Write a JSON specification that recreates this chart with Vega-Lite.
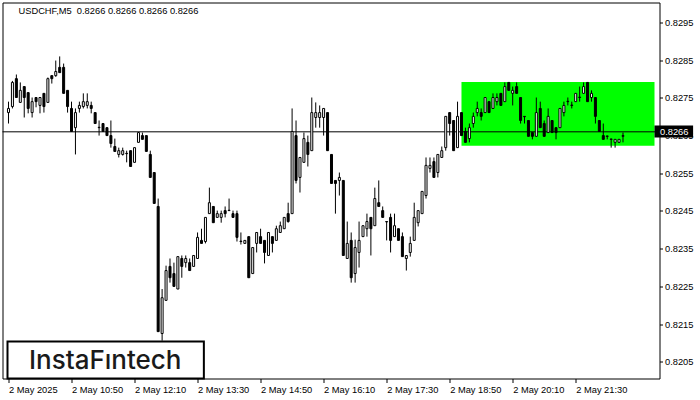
{
  "$schema": "https://vega.github.io/schema/vega-lite/v6.json",
  "width": 657,
  "height": 376,
  "autosize": {"type": "none"},
  "padding": {"left": 2.5, "top": 2.5, "right": 40.5, "bottom": 21.5},
  "background": "white",
  "config": {
    "view": {"stroke": "black", "strokeWidth": 1},
    "font": "Liberation Sans"
  },
  "title": {
    "text": "USDCHF,M5\u00a0 0.8266 0.8266 0.8266 0.8266",
    "anchor": "start",
    "orient": "top",
    "frame": "group",
    "baseline": "alphabetic",
    "offset": 0,
    "dx": 16,
    "dy": 21,
    "font": "Liberation Sans",
    "fontSize": 9.3,
    "fontWeight": "normal",
    "color": "black"
  },
  "data": {
    "format": {"parse": {"t": "date:'%Y-%m-%d %H:%M'"}},
    "values": [
      {"t": "2025-05-02 09:30", "o": 0.82711, "h": 0.82740, "l": 0.82682, "c": 0.82722},
      {"t": "2025-05-02 09:35", "o": 0.82727, "h": 0.82795, "l": 0.82722, "c": 0.82791},
      {"t": "2025-05-02 09:40", "o": 0.82801, "h": 0.82812, "l": 0.82751, "c": 0.82751},
      {"t": "2025-05-02 09:45", "o": 0.82738, "h": 0.82791, "l": 0.82738, "c": 0.82770},
      {"t": "2025-05-02 09:50", "o": 0.82780, "h": 0.82780, "l": 0.82698, "c": 0.82751},
      {"t": "2025-05-02 09:55", "o": 0.82764, "h": 0.82764, "l": 0.82709, "c": 0.82722},
      {"t": "2025-05-02 10:00", "o": 0.82711, "h": 0.82751, "l": 0.82698, "c": 0.82740},
      {"t": "2025-05-02 10:05", "o": 0.82751, "h": 0.82751, "l": 0.82725, "c": 0.82740},
      {"t": "2025-05-02 10:10", "o": 0.82730, "h": 0.82751, "l": 0.82709, "c": 0.82751},
      {"t": "2025-05-02 10:15", "o": 0.82762, "h": 0.82762, "l": 0.82711, "c": 0.82727},
      {"t": "2025-05-02 10:20", "o": 0.82738, "h": 0.82804, "l": 0.82738, "c": 0.82801},
      {"t": "2025-05-02 10:25", "o": 0.82809, "h": 0.82809, "l": 0.82788, "c": 0.82801},
      {"t": "2025-05-02 10:30", "o": 0.82809, "h": 0.82849, "l": 0.82806, "c": 0.82820},
      {"t": "2025-05-02 10:35", "o": 0.82831, "h": 0.82860, "l": 0.82817, "c": 0.82817},
      {"t": "2025-05-02 10:40", "o": 0.82831, "h": 0.82841, "l": 0.82762, "c": 0.82762},
      {"t": "2025-05-02 10:45", "o": 0.82770, "h": 0.82770, "l": 0.82711, "c": 0.82727},
      {"t": "2025-05-02 10:50", "o": 0.82722, "h": 0.82740, "l": 0.82661, "c": 0.82661},
      {"t": "2025-05-02 10:55", "o": 0.82671, "h": 0.82722, "l": 0.82600, "c": 0.82711},
      {"t": "2025-05-02 11:00", "o": 0.82722, "h": 0.82740, "l": 0.82711, "c": 0.82730},
      {"t": "2025-05-02 11:05", "o": 0.82727, "h": 0.82762, "l": 0.82722, "c": 0.82740},
      {"t": "2025-05-02 11:10", "o": 0.82730, "h": 0.82762, "l": 0.82722, "c": 0.82740},
      {"t": "2025-05-02 11:15", "o": 0.82730, "h": 0.82740, "l": 0.82709, "c": 0.82722},
      {"t": "2025-05-02 11:20", "o": 0.82711, "h": 0.82711, "l": 0.82682, "c": 0.82682},
      {"t": "2025-05-02 11:25", "o": 0.82672, "h": 0.82690, "l": 0.82650, "c": 0.82671},
      {"t": "2025-05-02 11:30", "o": 0.82682, "h": 0.82682, "l": 0.82661, "c": 0.82661},
      {"t": "2025-05-02 11:35", "o": 0.82671, "h": 0.82671, "l": 0.82650, "c": 0.82650},
      {"t": "2025-05-02 11:40", "o": 0.82650, "h": 0.82690, "l": 0.82618, "c": 0.82629},
      {"t": "2025-05-02 11:45", "o": 0.82621, "h": 0.82642, "l": 0.82608, "c": 0.82608},
      {"t": "2025-05-02 11:50", "o": 0.82600, "h": 0.82618, "l": 0.82592, "c": 0.82610},
      {"t": "2025-05-02 11:55", "o": 0.82600, "h": 0.82618, "l": 0.82597, "c": 0.82610},
      {"t": "2025-05-02 12:00", "o": 0.82603, "h": 0.82610, "l": 0.82579, "c": 0.82602},
      {"t": "2025-05-02 12:05", "o": 0.82610, "h": 0.82610, "l": 0.82568, "c": 0.82568},
      {"t": "2025-05-02 12:10", "o": 0.82579, "h": 0.82618, "l": 0.82579, "c": 0.82618},
      {"t": "2025-05-02 12:15", "o": 0.82632, "h": 0.82658, "l": 0.82632, "c": 0.82658},
      {"t": "2025-05-02 12:20", "o": 0.82650, "h": 0.82658, "l": 0.82640, "c": 0.82640},
      {"t": "2025-05-02 12:25", "o": 0.82650, "h": 0.82650, "l": 0.82608, "c": 0.82608},
      {"t": "2025-05-02 12:30", "o": 0.82600, "h": 0.82610, "l": 0.82539, "c": 0.82539},
      {"t": "2025-05-02 12:35", "o": 0.82552, "h": 0.82552, "l": 0.82470, "c": 0.82470},
      {"t": "2025-05-02 12:40", "o": 0.82462, "h": 0.82483, "l": 0.82130, "c": 0.82130},
      {"t": "2025-05-02 12:45", "o": 0.82125, "h": 0.82243, "l": 0.82106, "c": 0.82220},
      {"t": "2025-05-02 12:50", "o": 0.82213, "h": 0.82305, "l": 0.82213, "c": 0.82292},
      {"t": "2025-05-02 12:55", "o": 0.82303, "h": 0.82324, "l": 0.82260, "c": 0.82273},
      {"t": "2025-05-02 13:00", "o": 0.82284, "h": 0.82313, "l": 0.82250, "c": 0.82250},
      {"t": "2025-05-02 13:05", "o": 0.82243, "h": 0.82329, "l": 0.82243, "c": 0.82329},
      {"t": "2025-05-02 13:10", "o": 0.82324, "h": 0.82332, "l": 0.82273, "c": 0.82303},
      {"t": "2025-05-02 13:15", "o": 0.82313, "h": 0.82332, "l": 0.82300, "c": 0.82324},
      {"t": "2025-05-02 13:20", "o": 0.82313, "h": 0.82324, "l": 0.82292, "c": 0.82292},
      {"t": "2025-05-02 13:25", "o": 0.82303, "h": 0.82332, "l": 0.82303, "c": 0.82332},
      {"t": "2025-05-02 13:30", "o": 0.82324, "h": 0.82393, "l": 0.82324, "c": 0.82380},
      {"t": "2025-05-02 13:35", "o": 0.82372, "h": 0.82403, "l": 0.82364, "c": 0.82364},
      {"t": "2025-05-02 13:40", "o": 0.82369, "h": 0.82433, "l": 0.82364, "c": 0.82433},
      {"t": "2025-05-02 13:45", "o": 0.82443, "h": 0.82512, "l": 0.82443, "c": 0.82472},
      {"t": "2025-05-02 13:50", "o": 0.82462, "h": 0.82462, "l": 0.82419, "c": 0.82419},
      {"t": "2025-05-02 13:55", "o": 0.82433, "h": 0.82451, "l": 0.82433, "c": 0.82443},
      {"t": "2025-05-02 14:00", "o": 0.82433, "h": 0.82451, "l": 0.82419, "c": 0.82443},
      {"t": "2025-05-02 14:05", "o": 0.82451, "h": 0.82462, "l": 0.82433, "c": 0.82443},
      {"t": "2025-05-02 14:10", "o": 0.82452, "h": 0.82483, "l": 0.82451, "c": 0.82451},
      {"t": "2025-05-02 14:15", "o": 0.82443, "h": 0.82451, "l": 0.82433, "c": 0.82433},
      {"t": "2025-05-02 14:20", "o": 0.82443, "h": 0.82451, "l": 0.82369, "c": 0.82380},
      {"t": "2025-05-02 14:25", "o": 0.82370, "h": 0.82393, "l": 0.82361, "c": 0.82369},
      {"t": "2025-05-02 14:30", "o": 0.82364, "h": 0.82372, "l": 0.82364, "c": 0.82372},
      {"t": "2025-05-02 14:35", "o": 0.82382, "h": 0.82382, "l": 0.82273, "c": 0.82273},
      {"t": "2025-05-02 14:40", "o": 0.82284, "h": 0.82353, "l": 0.82284, "c": 0.82353},
      {"t": "2025-05-02 14:45", "o": 0.82364, "h": 0.82393, "l": 0.82340, "c": 0.82393},
      {"t": "2025-05-02 14:50", "o": 0.82382, "h": 0.82403, "l": 0.82364, "c": 0.82364},
      {"t": "2025-05-02 14:55", "o": 0.82372, "h": 0.82372, "l": 0.82311, "c": 0.82340},
      {"t": "2025-05-02 15:00", "o": 0.82332, "h": 0.82393, "l": 0.82332, "c": 0.82393},
      {"t": "2025-05-02 15:05", "o": 0.82382, "h": 0.82382, "l": 0.82340, "c": 0.82364},
      {"t": "2025-05-02 15:10", "o": 0.82372, "h": 0.82411, "l": 0.82372, "c": 0.82403},
      {"t": "2025-05-02 15:15", "o": 0.82393, "h": 0.82422, "l": 0.82393, "c": 0.82411},
      {"t": "2025-05-02 15:20", "o": 0.82403, "h": 0.82433, "l": 0.82403, "c": 0.82433},
      {"t": "2025-05-02 15:25", "o": 0.82443, "h": 0.82472, "l": 0.82419, "c": 0.82422},
      {"t": "2025-05-02 15:30", "o": 0.82443, "h": 0.82722, "l": 0.82443, "c": 0.82661},
      {"t": "2025-05-02 15:35", "o": 0.82650, "h": 0.82690, "l": 0.82523, "c": 0.82531},
      {"t": "2025-05-02 15:40", "o": 0.82539, "h": 0.82592, "l": 0.82499, "c": 0.82592},
      {"t": "2025-05-02 15:45", "o": 0.82579, "h": 0.82658, "l": 0.82579, "c": 0.82642},
      {"t": "2025-05-02 15:50", "o": 0.82632, "h": 0.82650, "l": 0.82568, "c": 0.82600},
      {"t": "2025-05-02 15:55", "o": 0.82610, "h": 0.82751, "l": 0.82610, "c": 0.82711},
      {"t": "2025-05-02 16:00", "o": 0.82698, "h": 0.82738, "l": 0.82671, "c": 0.82711},
      {"t": "2025-05-02 16:05", "o": 0.82698, "h": 0.82730, "l": 0.82671, "c": 0.82711},
      {"t": "2025-05-02 16:10", "o": 0.82698, "h": 0.82722, "l": 0.82650, "c": 0.82722},
      {"t": "2025-05-02 16:15", "o": 0.82711, "h": 0.82711, "l": 0.82610, "c": 0.82610},
      {"t": "2025-05-02 16:20", "o": 0.82600, "h": 0.82600, "l": 0.82523, "c": 0.82523},
      {"t": "2025-05-02 16:25", "o": 0.82531, "h": 0.82531, "l": 0.82443, "c": 0.82523},
      {"t": "2025-05-02 16:30", "o": 0.82531, "h": 0.82552, "l": 0.82491, "c": 0.82539},
      {"t": "2025-05-02 16:35", "o": 0.82531, "h": 0.82531, "l": 0.82332, "c": 0.82332},
      {"t": "2025-05-02 16:40", "o": 0.82324, "h": 0.82422, "l": 0.82324, "c": 0.82364},
      {"t": "2025-05-02 16:45", "o": 0.82372, "h": 0.82393, "l": 0.82260, "c": 0.82273},
      {"t": "2025-05-02 16:50", "o": 0.82284, "h": 0.82374, "l": 0.82260, "c": 0.82353},
      {"t": "2025-05-02 16:55", "o": 0.82340, "h": 0.82422, "l": 0.82300, "c": 0.82372},
      {"t": "2025-05-02 17:00", "o": 0.82382, "h": 0.82411, "l": 0.82382, "c": 0.82411},
      {"t": "2025-05-02 17:05", "o": 0.82403, "h": 0.82443, "l": 0.82382, "c": 0.82422},
      {"t": "2025-05-02 17:10", "o": 0.82433, "h": 0.82433, "l": 0.82332, "c": 0.82403},
      {"t": "2025-05-02 17:15", "o": 0.82411, "h": 0.82512, "l": 0.82411, "c": 0.82483},
      {"t": "2025-05-02 17:20", "o": 0.82472, "h": 0.82531, "l": 0.82462, "c": 0.82462},
      {"t": "2025-05-02 17:25", "o": 0.82451, "h": 0.82462, "l": 0.82433, "c": 0.82433},
      {"t": "2025-05-02 17:30", "o": 0.82422, "h": 0.82422, "l": 0.82372, "c": 0.82421},
      {"t": "2025-05-02 17:35", "o": 0.82433, "h": 0.82443, "l": 0.82340, "c": 0.82372},
      {"t": "2025-05-02 17:40", "o": 0.82382, "h": 0.82443, "l": 0.82382, "c": 0.82411},
      {"t": "2025-05-02 17:45", "o": 0.82403, "h": 0.82403, "l": 0.82372, "c": 0.82372},
      {"t": "2025-05-02 17:50", "o": 0.82382, "h": 0.82393, "l": 0.82329, "c": 0.82329},
      {"t": "2025-05-02 17:55", "o": 0.82324, "h": 0.82332, "l": 0.82292, "c": 0.82332},
      {"t": "2025-05-02 18:00", "o": 0.82340, "h": 0.82382, "l": 0.82329, "c": 0.82364},
      {"t": "2025-05-02 18:05", "o": 0.82372, "h": 0.82472, "l": 0.82372, "c": 0.82433},
      {"t": "2025-05-02 18:10", "o": 0.82419, "h": 0.82451, "l": 0.82409, "c": 0.82451},
      {"t": "2025-05-02 18:15", "o": 0.82443, "h": 0.82502, "l": 0.82443, "c": 0.82502},
      {"t": "2025-05-02 18:20", "o": 0.82491, "h": 0.82592, "l": 0.82483, "c": 0.82571},
      {"t": "2025-05-02 18:25", "o": 0.82563, "h": 0.82592, "l": 0.82552, "c": 0.82571},
      {"t": "2025-05-02 18:30", "o": 0.82581, "h": 0.82592, "l": 0.82539, "c": 0.82539},
      {"t": "2025-05-02 18:35", "o": 0.82552, "h": 0.82600, "l": 0.82539, "c": 0.82600},
      {"t": "2025-05-02 18:40", "o": 0.82592, "h": 0.82621, "l": 0.82592, "c": 0.82610},
      {"t": "2025-05-02 18:45", "o": 0.82618, "h": 0.82701, "l": 0.82610, "c": 0.82701},
      {"t": "2025-05-02 18:50", "o": 0.82711, "h": 0.82711, "l": 0.82650, "c": 0.82682},
      {"t": "2025-05-02 18:55", "o": 0.82690, "h": 0.82690, "l": 0.82610, "c": 0.82610},
      {"t": "2025-05-02 19:00", "o": 0.82618, "h": 0.82740, "l": 0.82618, "c": 0.82701},
      {"t": "2025-05-02 19:05", "o": 0.82711, "h": 0.82711, "l": 0.82650, "c": 0.82650},
      {"t": "2025-05-02 19:10", "o": 0.82661, "h": 0.82671, "l": 0.82632, "c": 0.82632},
      {"t": "2025-05-02 19:15", "o": 0.82642, "h": 0.82682, "l": 0.82632, "c": 0.82671},
      {"t": "2025-05-02 19:20", "o": 0.82682, "h": 0.82711, "l": 0.82671, "c": 0.82701},
      {"t": "2025-05-02 19:25", "o": 0.82711, "h": 0.82740, "l": 0.82701, "c": 0.82722},
      {"t": "2025-05-02 19:30", "o": 0.82711, "h": 0.82722, "l": 0.82690, "c": 0.82701},
      {"t": "2025-05-02 19:35", "o": 0.82711, "h": 0.82751, "l": 0.82711, "c": 0.82751},
      {"t": "2025-05-02 19:40", "o": 0.82740, "h": 0.82740, "l": 0.82711, "c": 0.82711},
      {"t": "2025-05-02 19:45", "o": 0.82722, "h": 0.82762, "l": 0.82722, "c": 0.82751},
      {"t": "2025-05-02 19:50", "o": 0.82740, "h": 0.82762, "l": 0.82730, "c": 0.82751},
      {"t": "2025-05-02 19:55", "o": 0.82762, "h": 0.82762, "l": 0.82730, "c": 0.82730},
      {"t": "2025-05-02 20:00", "o": 0.82740, "h": 0.82791, "l": 0.82740, "c": 0.82780},
      {"t": "2025-05-02 20:05", "o": 0.82791, "h": 0.82791, "l": 0.82770, "c": 0.82770},
      {"t": "2025-05-02 20:10", "o": 0.82762, "h": 0.82780, "l": 0.82730, "c": 0.82770},
      {"t": "2025-05-02 20:15", "o": 0.82780, "h": 0.82791, "l": 0.82762, "c": 0.82762},
      {"t": "2025-05-02 20:20", "o": 0.82751, "h": 0.82751, "l": 0.82682, "c": 0.82690},
      {"t": "2025-05-02 20:25", "o": 0.82701, "h": 0.82701, "l": 0.82682, "c": 0.82700},
      {"t": "2025-05-02 20:30", "o": 0.82690, "h": 0.82690, "l": 0.82648, "c": 0.82648},
      {"t": "2025-05-02 20:35", "o": 0.82658, "h": 0.82658, "l": 0.82640, "c": 0.82648},
      {"t": "2025-05-02 20:40", "o": 0.82648, "h": 0.82751, "l": 0.82648, "c": 0.82711},
      {"t": "2025-05-02 20:45", "o": 0.82722, "h": 0.82740, "l": 0.82671, "c": 0.82671},
      {"t": "2025-05-02 20:50", "o": 0.82682, "h": 0.82690, "l": 0.82648, "c": 0.82648},
      {"t": "2025-05-02 20:55", "o": 0.82658, "h": 0.82722, "l": 0.82658, "c": 0.82701},
      {"t": "2025-05-02 21:00", "o": 0.82690, "h": 0.82690, "l": 0.82658, "c": 0.82658},
      {"t": "2025-05-02 21:05", "o": 0.82671, "h": 0.82671, "l": 0.82640, "c": 0.82658},
      {"t": "2025-05-02 21:10", "o": 0.82671, "h": 0.82722, "l": 0.82671, "c": 0.82722},
      {"t": "2025-05-02 21:15", "o": 0.82711, "h": 0.82740, "l": 0.82701, "c": 0.82730},
      {"t": "2025-05-02 21:20", "o": 0.82741, "h": 0.82751, "l": 0.82730, "c": 0.82740},
      {"t": "2025-05-02 21:25", "o": 0.82731, "h": 0.82740, "l": 0.82722, "c": 0.82730},
      {"t": "2025-05-02 21:30", "o": 0.82740, "h": 0.82762, "l": 0.82740, "c": 0.82762},
      {"t": "2025-05-02 21:35", "o": 0.82752, "h": 0.82780, "l": 0.82740, "c": 0.82751},
      {"t": "2025-05-02 21:40", "o": 0.82762, "h": 0.82791, "l": 0.82762, "c": 0.82780},
      {"t": "2025-05-02 21:45", "o": 0.82791, "h": 0.82791, "l": 0.82740, "c": 0.82740},
      {"t": "2025-05-02 21:50", "o": 0.82751, "h": 0.82770, "l": 0.82740, "c": 0.82762},
      {"t": "2025-05-02 21:55", "o": 0.82751, "h": 0.82751, "l": 0.82682, "c": 0.82701},
      {"t": "2025-05-02 22:00", "o": 0.82690, "h": 0.82690, "l": 0.82661, "c": 0.82661},
      {"t": "2025-05-02 22:05", "o": 0.82650, "h": 0.82682, "l": 0.82640, "c": 0.82640},
      {"t": "2025-05-02 22:10", "o": 0.82649, "h": 0.82649, "l": 0.82640, "c": 0.82648},
      {"t": "2025-05-02 22:15", "o": 0.82641, "h": 0.82641, "l": 0.82618, "c": 0.82640},
      {"t": "2025-05-02 22:20", "o": 0.82632, "h": 0.82640, "l": 0.82618, "c": 0.82640},
      {"t": "2025-05-02 22:25", "o": 0.82632, "h": 0.82640, "l": 0.82632, "c": 0.82640},
      {"t": "2025-05-02 22:30", "o": 0.82648, "h": 0.82658, "l": 0.82632, "c": 0.82650}
    ]
  },
  "layer": [
    {
      "data": {"values": [{}]},
      "mark": {"type": "rect", "color": "#00FF00", "opacity": 1},
      "encoding": {
        "x": {"datum": {"year": 2025, "month": 5, "date": 2, "hours": 19, "minutes": 5}, "type": "temporal"},
        "x2": {"datum": {"year": 2025, "month": 5, "date": 2, "hours": 23, "minutes": 10}},
        "y": {"datum": 0.82792, "type": "quantitative"},
        "y2": {"datum": 0.82623}
      }
    },
    {
      "data": {"values": [{}]},
      "mark": {"type": "rule", "color": "black", "strokeWidth": 1},
      "encoding": {"y": {"datum": 0.8266, "type": "quantitative"}}
    },
    {
      "mark": {"type": "rule", "color": "black", "strokeWidth": 1},
      "encoding": {
        "x": {
          "field": "t",
          "type": "temporal",
          "title": null,
          "scale": {
            "domain": [
              {"year": 2025, "month": 5, "date": 2, "hours": 9, "minutes": 28, "seconds": 45},
              {"year": 2025, "month": 5, "date": 2, "hours": 23, "minutes": 10}
            ]
          },
          "axis": {
            "values": [
              {"year": 2025, "month": 5, "date": 2, "hours": 9, "minutes": 30},
              {"year": 2025, "month": 5, "date": 2, "hours": 10, "minutes": 50},
              {"year": 2025, "month": 5, "date": 2, "hours": 12, "minutes": 10},
              {"year": 2025, "month": 5, "date": 2, "hours": 13, "minutes": 30},
              {"year": 2025, "month": 5, "date": 2, "hours": 14, "minutes": 50},
              {"year": 2025, "month": 5, "date": 2, "hours": 16, "minutes": 10},
              {"year": 2025, "month": 5, "date": 2, "hours": 17, "minutes": 30},
              {"year": 2025, "month": 5, "date": 2, "hours": 18, "minutes": 50},
              {"year": 2025, "month": 5, "date": 2, "hours": 20, "minutes": 10},
              {"year": 2025, "month": 5, "date": 2, "hours": 21, "minutes": 30}
            ],
            "labelExpr": "timeFormat(datum.value, '%H:%M') == '09:30' ? '2 May 2025' : timeFormat(datum.value, '%-d %b %H:%M')",
            "grid": false,
            "domain": false,
            "ticks": true,
            "tickColor": "black",
            "tickSize": 4,
            "labelAlign": "left",
            "labelBaseline": "top",
            "labelPadding": 3,
            "labelFont": "Liberation Sans",
            "labelFontSize": 9.3,
            "labelColor": "black",
            "labelOverlap": false,
            "labelBound": false,
            "labelFlush": false
          }
        },
        "y": {
          "field": "l",
          "type": "quantitative",
          "title": null,
          "scale": {"domain": [0.820057, 0.83003], "zero": false, "nice": false},
          "axis": {
            "orient": "right",
            "values": [0.8205, 0.8215, 0.8225, 0.8235, 0.8245, 0.8255, 0.8265, 0.8275, 0.8285, 0.8295],
            "format": ".4f",
            "grid": false,
            "domain": false,
            "tickColor": "black",
            "tickSize": 3,
            "labelPadding": 2,
            "labelFont": "Liberation Sans",
            "labelFontSize": 9.3,
            "labelColor": "black",
            "labelOverlap": false,
            "labelBound": false,
            "labelFlush": false
          }
        },
        "y2": {"field": "h"}
      }
    },
    {
      "mark": {"type": "bar", "size": 2, "stroke": "black", "strokeWidth": 1},
      "encoding": {
        "x": {"field": "t", "type": "temporal", "title": null},
        "y": {"field": "o", "type": "quantitative", "title": null},
        "y2": {"field": "c"},
        "fill": {"condition": {"test": "datum.c >= datum.o", "value": "white"}, "value": "black"}
      }
    },
    {
      "data": {"values": [{}]},
      "mark": {"type": "rect", "color": "black"},
      "encoding": {
        "x": {"datum": {"year": 2025, "month": 5, "date": 2, "hours": 23, "minutes": 10}, "type": "temporal"},
        "x2": {"datum": {"year": 2025, "month": 5, "date": 2, "hours": 23, "minutes": 59}},
        "y": {"datum": 0.82677, "type": "quantitative"},
        "y2": {"datum": 0.82645}
      }
    },
    {
      "data": {"values": [{}]},
      "mark": {"type": "text", "color": "white", "align": "left", "baseline": "middle", "font": "Liberation Sans", "fontSize": 9.3},
      "encoding": {
        "x": {"datum": {"year": 2025, "month": 5, "date": 2, "hours": 23, "minutes": 17}, "type": "temporal"},
        "y": {"datum": 0.8266, "type": "quantitative"},
        "text": {"value": "0.8266"}
      }
    },
    {
      "data": {"values": [{}]},
      "mark": {"type": "rect", "fill": "white", "stroke": "black", "strokeWidth": 2},
      "encoding": {
        "x": {"datum": {"year": 2025, "month": 5, "date": 2, "hours": 9, "minutes": 28, "seconds": 45}, "type": "temporal"},
        "x2": {"datum": {"year": 2025, "month": 5, "date": 2, "hours": 13, "minutes": 38}},
        "y": {"datum": 0.82104, "type": "quantitative"},
        "y2": {"datum": 0.820057}
      }
    },
    {
      "data": {"values": [{}]},
      "mark": {"type": "text", "color": "#1a1a1a", "align": "center", "baseline": "alphabetic", "font": "Inter", "fontSize": 26, "fontWeight": 500},
      "encoding": {
        "x": {"datum": {"year": 2025, "month": 5, "date": 2, "hours": 11, "minutes": 32, "seconds": 45}, "type": "temporal"},
        "y": {"datum": 0.82031, "type": "quantitative"},
        "text": {"value": "InstaFıntech"}
      }
    }
  ]
}
